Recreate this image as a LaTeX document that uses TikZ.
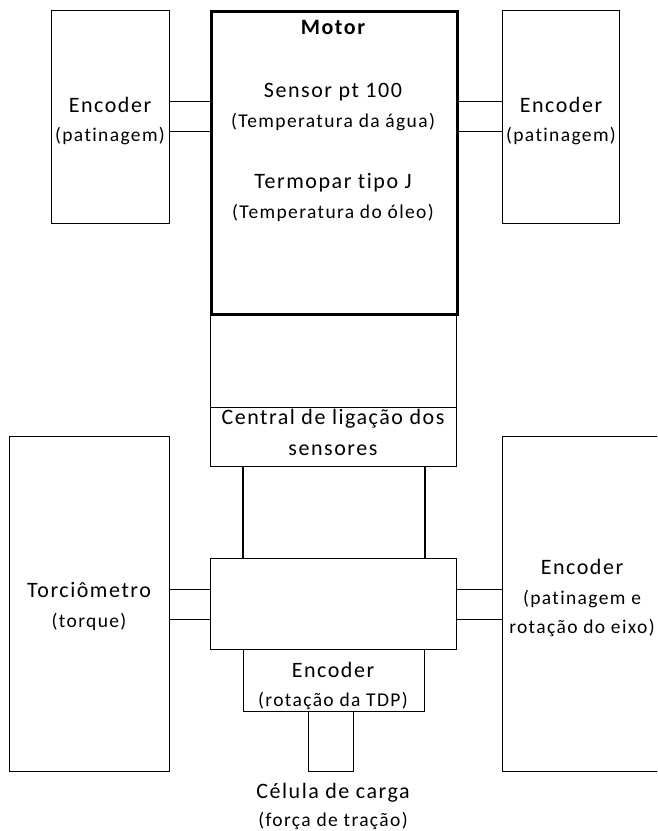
\documentclass[tikz,border=0pt]{standalone}
\usepackage{fontspec}
\setmainfont{Carlito}[LetterSpace=7, Ligatures={NoCommon}]
\usetikzlibrary{positioning}

\begin{document}
\begin{tikzpicture}[x=1pt,y=-1pt,
    box/.style={draw, line width=1.1pt, anchor=north west, inner sep=0pt},
    wire/.style={line width=1.1pt},
    big/.style={anchor=base, inner sep=0pt, font=\fontsize{22}{26}\selectfont},
    small/.style={anchor=base, inner sep=0pt, font=\fontsize{19.5}{23}\selectfont}]
  \useasboundingbox (0,0) rectangle (657,831);
  \clip (0,0) rectangle (657,831);

  % caixas
  \node[box, minimum width=118pt, minimum height=213pt] (encL) at (51,10) {};
  \node[box, minimum width=117pt, minimum height=213pt] (encR) at (502,10) {};
  \node[box, minimum width=246pt, minimum height=94pt] (hub) at (210,313) {};
  \node[box, minimum width=246pt, minimum height=59pt] (central) at (210,407) {};
  \node[box, line width=3pt, minimum width=246pt, minimum height=303pt] (motor) at (210,10) {};
  \node[box, minimum width=160pt, minimum height=335pt] (torq) at (9,436) {};
  \node[box, minimum width=165pt, minimum height=335pt] (encE) at (502,436) {};
  \node[box, minimum width=246pt, minimum height=91pt] (mid) at (210,558) {};
  \node[box, minimum width=181pt, minimum height=62pt] (tdp) at (243,649) {};
  \node[box, minimum width=45pt, minimum height=60pt] (cell) at (308,711) {};

  % ligacoes
  \foreach \s in {15.5,-14.5} {
    \draw[wire] ([yshift=\s pt]encL.east) -- ([yshift=\s pt]encL.east -| motor.west);
    \draw[wire] ([yshift=\s pt]encR.west) -- ([yshift=\s pt]encR.west -| motor.east);
  }
  \foreach \s in {14.5,-15.5} {
    \draw[wire] ([yshift=\s pt]torq.east) -- ([yshift=\s pt]torq.east -| mid.west);
    \draw[wire] ([yshift=\s pt]encE.west |- mid.east) -- ([yshift=\s pt]mid.east);
  }
  \draw[line width=1.6pt] (tdp.north west |- central.south) -- (tdp.north west |- mid.north);
  \draw[line width=1.6pt] (tdp.north east |- central.south) -- (tdp.north east |- mid.north);

  % textos
  \node[big] (tMotor) at (333,34) {\bfseries Motor};
  \node[big] (tPt) at (333,97) {Sensor pt 100};
  \node[small] (tAgua) at (333,127) {(Temperatura da água)};
  \node[big] (tTerm) at (333,188) {Termopar tipo J};
  \node[small] (tOleo) at (333,218) {(Temperatura do óleo)};
  \node[big] (tEncL) at (110,112) {Encoder};
  \node[small] (tPatL) at (110,141) {(patinagem)};
  \node[big] (tEncR) at (561,112) {Encoder};
  \node[small] (tPatR) at (561,141) {(patinagem)};
  \node[big] (tCen1) at (333,424) {Central de ligação dos};
  \node[big] (tCen2) at (333,455) {sensores};
  \node[big] (tTorq) at (89,597) {Torciômetro};
  \node[small] (tTorque) at (89,627) {(torque)};
  \node[big] (tEncE) at (582,574) {Encoder};
  \node[small] (tEixo1) at (582,604) {(patinagem e};
  \node[small] (tEixo2) at (582,633) {rotação do eixo)};
  \node[big] (tEncT) at (333,677) {Encoder};
  \node[small] (tTdp) at (333,706) {(rotação da TDP)};
  \node[big] (tCel) at (333,798) {Célula de carga};
  \node[small] (tForca) at (333,826) {(força de tração)};
\end{tikzpicture}
\end{document}
